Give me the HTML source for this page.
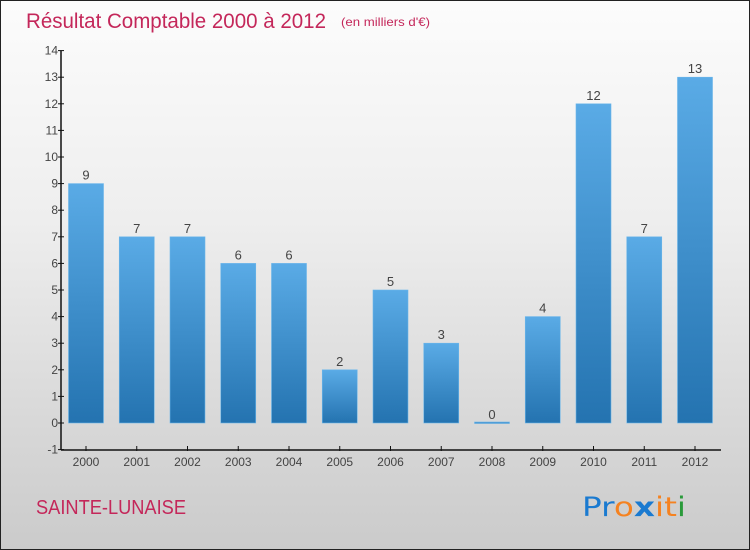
<!DOCTYPE html>
<html><head><meta charset="utf-8"><style>
html,body{margin:0;padding:0}
body{width:750px;height:550px;overflow:hidden;font-family:"Liberation Sans",sans-serif}
#wrap{position:absolute;left:0;top:0;width:748px;height:548px;border:1px solid #222;background:linear-gradient(#fcfcfc 0%,#eeeeee 40%,#d9d9d9 75%,#cbcbcb 100%)}
</style></head><body>
<div id="wrap">
<svg id="chart" width="750" height="550" style="position:absolute;left:-1px;top:-1px">
<defs><linearGradient id="bg" x1="0" y1="0" x2="0" y2="1"><stop offset="0" stop-color="#5aabe6"/><stop offset="1" stop-color="#2473b0"/></linearGradient></defs>
<text x="26" y="28" font-size="21" fill="#c4275a" textLength="300" lengthAdjust="spacingAndGlyphs">Résultat Comptable 2000 à 2012</text>
<text x="341" y="26" font-size="12" fill="#c4275a" textLength="89" lengthAdjust="spacingAndGlyphs">(en milliers d'€)</text>
<text x="36" y="514" font-size="20" fill="#c4275a" textLength="150" lengthAdjust="spacingAndGlyphs">SAINTE-LUNAISE</text>
<g font-size="27" font-family="'DejaVu Sans',sans-serif">
<text x="582" y="516" textLength="104" lengthAdjust="spacingAndGlyphs"><tspan fill="#1a7ad0">Pr</tspan><tspan fill="#f58220">o</tspan><tspan fill="#1a7ad0" font-weight="bold">x</tspan><tspan fill="#f58220">it</tspan><tspan fill="#2a9a3a">i</tspan></text>
</g>
<g id="plot"></g>
</svg>
</div>
<script>
const years=["2000","2001","2002","2003","2004","2005","2006","2007","2008","2009","2010","2011","2012"];
const values=[9,7,7,6,6,2,5,3,0,4,12,7,13];
const yTicks=[-1,0,1,2,3,4,5,6,7,8,9,10,11,12,13,14];
const NS="http://www.w3.org/2000/svg";
const g=document.getElementById('plot');
function y(v){return 423-v*26.6;}
function x(i){return 86+i*50.75;}
function mk(t,a){const e=document.createElementNS(NS,t);for(const k in a)e.setAttribute(k,a[k]);g.appendChild(e);return e;}
let ax=mk('line',{x1:61,y1:y(14),x2:61,y2:450,stroke:'#111','stroke-width':1.5});


let xa=mk('line',{x1:61,y1:450,x2:721,y2:450,stroke:'#111','stroke-width':1.5});


yTicks.forEach(v=>{
 mk('line',{x1:58,y1:y(v),x2:64,y2:y(v),stroke:'#111'});
 const t=mk('text',{x:58,y:y(v)+4,'font-size':12,fill:'#444','text-anchor':'end'});
 t.textContent=v;
 
 
});
years.forEach((yr,i)=>{
 const v=values[i];
 const top=y(Math.max(v,0)),h=Math.max(Math.abs(y(0)-y(v)),1.5);
 const r=mk('rect',{x:x(i)-17.5,y:v>0?top:y(0)-1,width:35,height:h,fill:'url(#bg)',stroke:'#6bb6ea','stroke-width':0.6});
 
 
 const l=mk('text',{x:x(i),y:(v>0?top:y(0))-4,'font-size':13,fill:'#444','text-anchor':'middle'});
 l.textContent=v;
 
 
 mk('line',{x1:x(i),y1:446,x2:x(i),y2:451,stroke:'#111'});
 const xt=mk('text',{x:x(i),y:466,'font-size':12,fill:'#444','text-anchor':'middle'});
 xt.textContent=yr;
 
 
});
</script>
</body></html>
